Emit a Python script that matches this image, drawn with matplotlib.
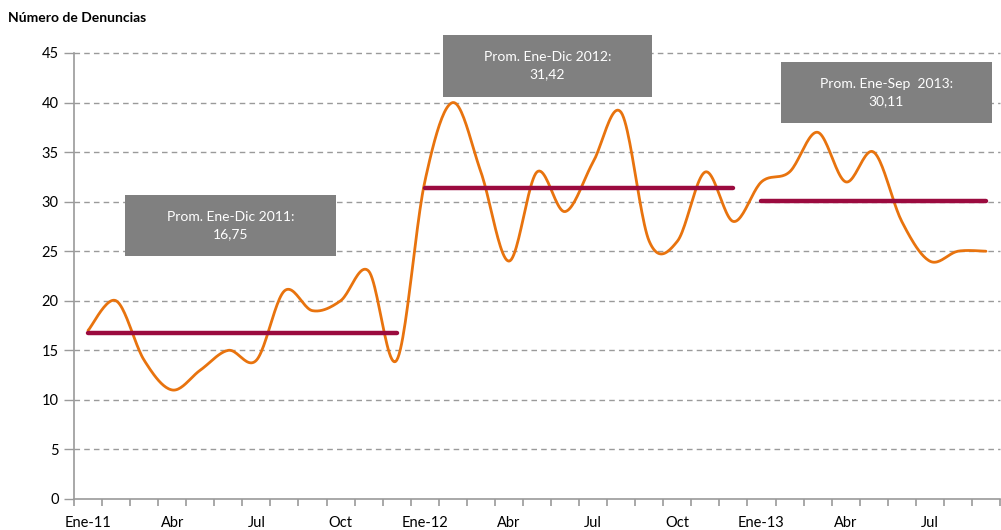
import numpy as np
import matplotlib
matplotlib.use("Agg")
import matplotlib.pyplot as plt
from matplotlib.patches import Rectangle

# ---- data ----
months = ["Ene-11", "Feb", "Mar", "Abr", "May", "Jun", "Jul", "Ago", "Sep", "Oct", "Nov", "Dic",
          "Ene-12", "Feb", "Mar", "Abr", "May", "Jun", "Jul", "Ago", "Sep", "Oct", "Nov", "Dic",
          "Ene-13", "Feb", "Mar", "Abr", "May", "Jun", "Jul", "Ago", "Sep"]
values_2011 = [17, 20, 14, 11, 13, 15, 14, 21, 19, 20, 23, 14]
values_2012 = [32, 40, 33, 24, 33, 29, 34, 39, 26, 26, 33, 28]
values_2013 = [32, 33, 37, 32, 35, 28, 24, 25, 25]
avg_labels = ["Prom. Ene-Dic 2011:\n16,75", "Prom. Ene-Dic 2012:\n31,42", "Prom. Ene-Sep  2013:\n30,11"]
shown_labels = {0: "Ene-11", 3: "Abr", 6: "Jul", 9: "Oct", 12: "Ene-12", 15: "Abr", 18: "Jul",
                21: "Oct", 24: "Ene-13", 27: "Abr", 30: "Jul"}
yticks = [0, 5, 10, 15, 20, 25, 30, 35, 40, 45]

values = values_2011 + values_2012 + values_2013
x = np.arange(len(values))


def smooth(xs, ys, n=24):
    P = np.column_stack([xs, ys]).astype(float)
    P = np.vstack([P[0], P, P[-1]])
    out = []
    for i in range(1, len(P) - 2):
        p0, p1, p2, p3 = P[i - 1], P[i], P[i + 1], P[i + 2]
        c1 = p1 + (p2 - p0) / 6.0
        c2 = p2 - (p3 - p1) / 6.0
        t = np.linspace(0, 1, n)[:, None]
        seg = ((1 - t) ** 3) * p1 + 3 * ((1 - t) ** 2) * t * c1 + 3 * (1 - t) * t ** 2 * c2 + t ** 3 * p2
        out.append(seg if i == 1 else seg[1:])
    S = np.vstack(out)
    return S[:, 0], S[:, 1]


plt.rcParams['font.family'] = ['Lato', 'DejaVu Sans']

fig = plt.figure(figsize=(10.01, 5.30), dpi=100)
ax = fig.add_axes([74 / 1001, 31 / 530, 926 / 1001, 446 / 530])

grid_col = "#9a9a9a"
for v in yticks[1:]:
    ax.axhline(v, color=grid_col, lw=1.0, ls=(0, (4, 3)), zorder=1, clip_on=False)

sx, sy = smooth(x, values)
ax.plot(sx, sy, color="#E8730E", lw=2.0, zorder=3, solid_capstyle="round")

# average lines
segments = [(0, values_2011), (12, values_2012), (24, values_2013)]
for start, vals in segments:
    m = np.mean(vals)
    ax.plot([start, start + len(vals) - 1], [m, m], color="#9B0B3F", lw=3.2,
            solid_capstyle="round", zorder=4)

# annotation boxes (x0, x1, y0, y1 in data coords)
boxes = [(1.31, 8.85, 24.5, 30.7), (12.65, 20.1, 40.6, 46.8), (24.7, 32.2, 37.9, 44.1)]
for (x0, x1, y0, y1), lab in zip(boxes, avg_labels):
    ax.add_patch(Rectangle((x0, y0), x1 - x0, y1 - y0, facecolor="#808080", edgecolor="none",
                           zorder=5, clip_on=False))
    ax.text((x0 + x1) / 2, (y0 + y1) / 2, lab, ha="center", va="center", color="white",
            fontsize=10, zorder=6, linespacing=1.5)

ax.set_xlim(-0.5, len(values) - 0.5)
ax.set_ylim(0, 45)
ax.set_yticks(yticks)
ax.set_yticklabels([str(v) for v in yticks], fontsize=10.5)

ax.set_xticks(np.arange(len(values) + 1) - 0.5)
ax.set_xticklabels([])
ax.set_xticks(list(shown_labels.keys()), minor=True)
ax.set_xticklabels(list(shown_labels.values()), minor=True, fontsize=10.5)
ax.tick_params(axis="x", which="minor", length=0, pad=12)
ax.tick_params(axis="x", which="major", length=5, color=grid_col, width=1.2)
ax.tick_params(axis="y", length=7, color=grid_col, width=1.0, pad=4)

for s in ["top", "right"]:
    ax.spines[s].set_visible(False)
for s in ["left", "bottom"]:
    ax.spines[s].set_color(grid_col)
    ax.spines[s].set_linewidth(1.2)

fig.text(8 / 1001, 1 - 18 / 530, "Número de Denuncias", fontsize=10, fontweight="bold",
         ha="left", va="center")

fig.savefig("out.png", dpi=100)
